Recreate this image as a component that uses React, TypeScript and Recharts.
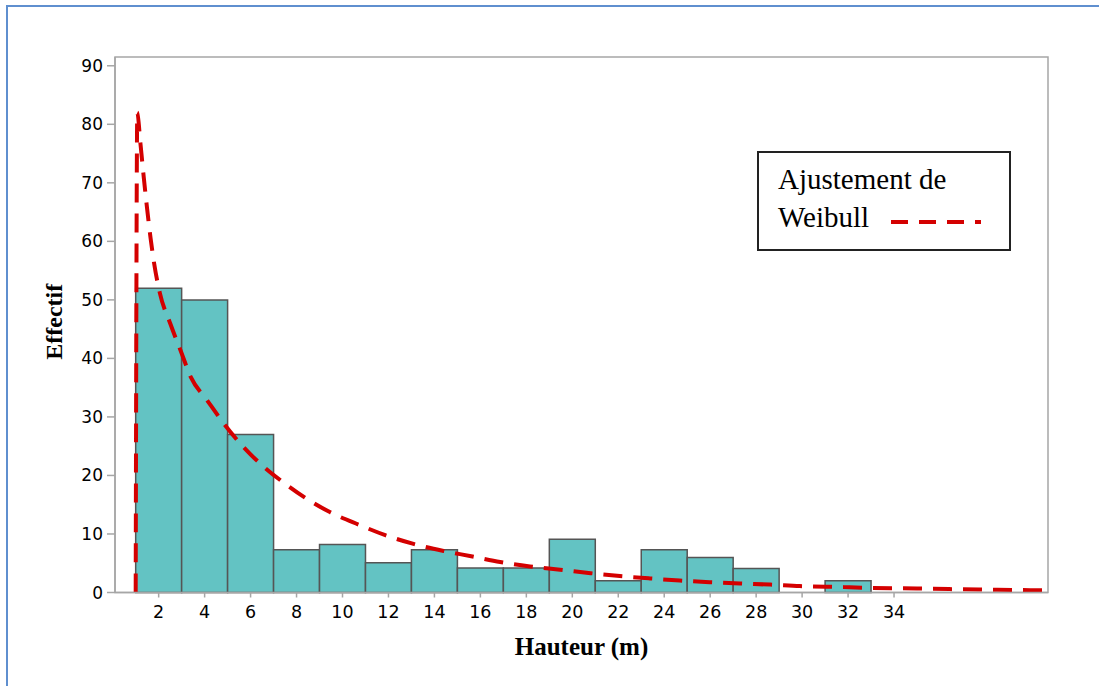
import React from 'react';
import { ComposedChart, Line, XAxis, YAxis, ReferenceArea, Legend } from 'recharts';

// histogram bins (left edge, width 2 m)
const binStarts = [1, 3, 5, 7, 9, 11, 13, 15, 17, 19, 21, 23, 25, 27, 29, 31];
const binCounts = [52, 50, 27, 7.3, 8.2, 5.1, 7.3, 4.2, 4.2, 9.1, 2, 7.3, 6, 4.1, 0, 2];
const binWidth = 2;

// fitted Weibull curve
const fitHeights = [1.0, 1.07, 1.2, 1.35, 1.5, 1.65, 1.8, 2.05, 2.5, 2.95, 3.4, 4.1, 4.83, 5.68, 6.57, 7.5, 8.45, 9.47, 10.7, 11.86, 13.09, 14.4, 15.6, 16.86, 18.16, 19.47, 20.8, 22.07, 23.38, 24.68, 25.98, 27.3, 28.6, 29.9, 31.8, 33, 35, 36.4, 37.9, 39.4, 40.7];
const fitValues = [0, 82, 77, 71, 65.5, 60.5, 56.3, 51.2, 46, 41.4, 36.8, 32.9, 28.9, 24.9, 21.5, 18.6, 16.0, 13.7, 11.6, 9.8, 8.3, 7.1, 6.2, 5.2, 4.45, 3.9, 3.3, 2.8, 2.4, 2.05, 1.77, 1.54, 1.35, 1.1, 0.92, 0.78, 0.68, 0.58, 0.5, 0.43, 0.36];

const xTicks = [2, 4, 6, 8, 10, 12, 14, 16, 18, 20, 22, 24, 26, 28, 30, 32, 34];
const yTicks = [0, 10, 20, 30, 40, 50, 60, 70, 80, 90];
const xDomain = [0.1, 40.7];
const yDomain = [0, 91.5];

const fitData = fitHeights.map((h, i) => ({ h, fit: fitValues[i] }));

const RED = '#d40000';
const AXIS = '#a6a6a6';
const TICK_FONT = '"DejaVu Sans", sans-serif';
const SERIF = '"Liberation Serif", serif';

const renderLegend = () => (
  <svg width={254} height={100}>
    <rect x={1} y={1} width={252} height={98} fill="#fff" stroke="#222" strokeWidth={2} />
    <text x={21} y={38} fontFamily={SERIF} fontSize={29} fill="#000">Ajustement de</text>
    <text x={21} y={76} fontFamily={SERIF} fontSize={29} fill="#000">Weibull</text>
    <line x1={134} x2={224} y1={71} y2={71} stroke={RED} strokeWidth={4} strokeDasharray="17 11" />
  </svg>
);

const yLabel = (props: any) => {
  const { x, y, height } = props.viewBox;
  const cx = x + 54;
  const cy = y + height / 2 - 3;
  return (
    <text x={cx} y={cy} transform={`rotate(-90 ${cx} ${cy})`} textAnchor="middle" dominantBaseline="central"
      fontFamily={SERIF} fontWeight="bold" fontSize={24} fill="#000">Effectif</text>
  );
};

const xLabel = (props: any) => {
  const { x, y, width } = props.viewBox;
  return (
    <text x={x + width / 2} y={y + 62} textAnchor="middle"
      fontFamily={SERIF} fontWeight="bold" fontSize={25} fill="#000">Hauteur (m)</text>
  );
};

export default function App() {
  return (
    <div style={{ position: 'absolute', left: 0, top: 0, width: 1099, height: 686, overflow: 'hidden', background: '#fff' }}>
      <div style={{ position: 'absolute', left: 6, top: 5, width: 1300, height: 900, border: '2px solid #5f8fcf' }} />
      <div style={{ position: 'absolute', left: 0, top: 0 }}>
        <ComposedChart width={1099} height={686} data={fitData} margin={{ top: 57, right: 51, left: 0, bottom: 33.5 }}>
          <XAxis dataKey="h" type="number" domain={xDomain} ticks={xTicks} interval={0} allowDataOverflow
            height={60} tickSize={5} tickMargin={8} stroke={AXIS} strokeWidth={1.5}
            tick={{ fill: '#000', fontSize: 17.5, fontFamily: TICK_FONT }} label={xLabel} />
          <YAxis type="number" domain={yDomain} ticks={yTicks} interval={0} allowDataOverflow
            width={115} tickSize={8} tickMargin={4} stroke={AXIS} strokeWidth={1.5}
            tick={{ fill: '#000', fontSize: 17, fontFamily: TICK_FONT }} label={yLabel} />
          <ReferenceArea x1={xDomain[0]} x2={xDomain[1]} y1={yDomain[0]} y2={yDomain[1]} fill="none" stroke={AXIS} strokeWidth={1.5} />
          {binStarts.map((s, i) => (
            <ReferenceArea key={s} x1={s} x2={s + binWidth} y1={0} y2={binCounts[i]}
              fill="#63c3c3" fillOpacity={1} stroke="#555" strokeWidth={1.5} />
          ))}
          <Line dataKey="fit" type="monotone" stroke={RED} strokeWidth={4} strokeDasharray="19 11"
            dot={false} activeDot={false} isAnimationActive={false} />
          <Legend layout="horizontal" verticalAlign="middle" align="center" content={renderLegend}
            wrapperStyle={{ position: 'absolute', left: 757, top: 151, width: 254, height: 100 }} />
        </ComposedChart>
      </div>
    </div>
  );
}
